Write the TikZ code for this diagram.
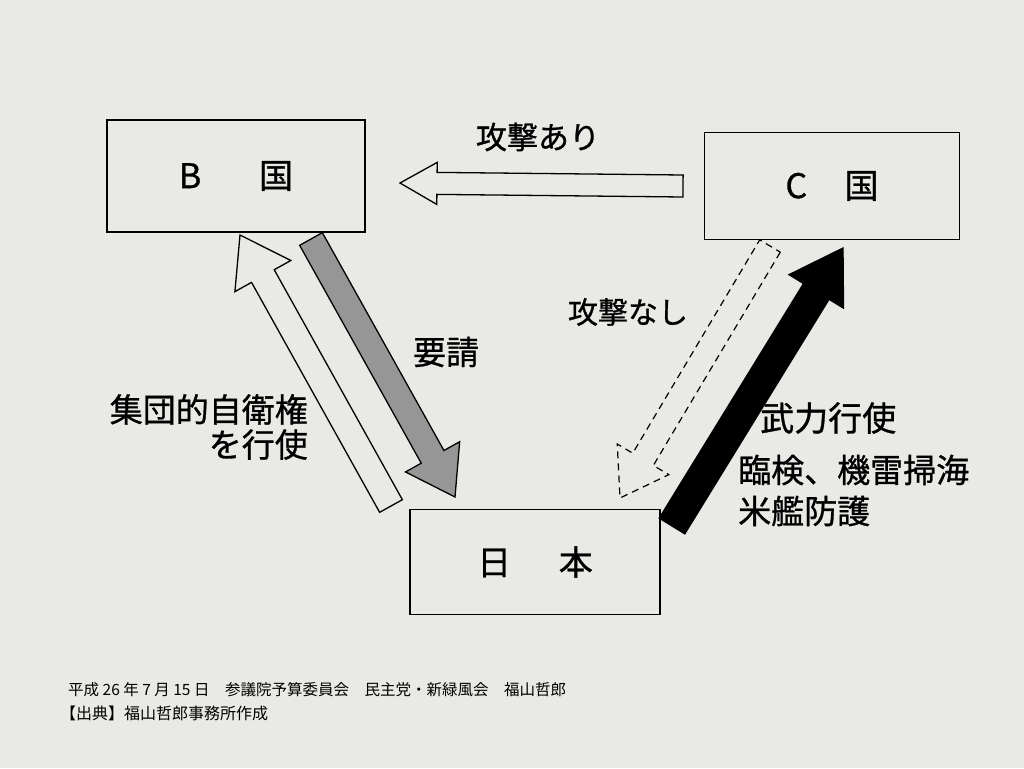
\documentclass[tikz,border=0pt]{standalone}
\usepackage{fontspec}
\newfontfamily\jp[FakeBold=0.9]{Noto Sans CJK JP}
\newfontfamily\jpf{Noto Sans CJK JP}
\usetikzlibrary{calc}
\definecolor{paper}{RGB}{233,233,230}
\definecolor{reqgray}{RGB}{150,150,150}
\newcommand\blockarrow[7]{% #1 style, #2 tail, #3 tip, #4 shaft half, #5 head half, #6 head length, #7 name
  \coordinate (#7h) at ($(#3)!#6!(#2)$);
  \draw[#1] ($(#2)!#4!90:(#3)$) -- ($(#7h)!#4!90:(#3)$) -- ($(#7h)!#5!90:(#3)$) -- (#3)
    -- ($(#7h)!#5!-90:(#3)$) -- ($(#7h)!#4!-90:(#3)$) -- ($(#2)!#4!-90:(#3)$) -- cycle;}
\tikzset{
  box/.style={draw, line width=1.4pt, inner sep=0pt, font=\jp\fontsize{34}{40}\selectfont},
  lbl/.style={inner sep=0pt, font=\jp\fontsize{33}{36}\selectfont},
  foot/.style={inner sep=0pt, anchor=west, font=\jpf\fontsize{15.5}{17}\selectfont},
  hollow/.style={draw, line width=1.3pt, fill=paper, line join=miter},
  dashedarrow/.style={draw, line width=1.2pt, dashed, dash pattern=on 7pt off 5pt, fill=paper},
  grayarrow/.style={draw, line width=1.3pt, fill=reqgray},
  blackarrow/.style={draw, line width=1.3pt, fill=black}
}
\begin{document}
\begin{tikzpicture}[x=1pt,y=1pt]
\useasboundingbox (0,0) rectangle (1024,-768);
\fill[paper] (0,0) rectangle (1024,-768);

% boxes
\node[box, minimum width=258pt, minimum height=112pt] (B) at (236,-176) {B\hspace{1.7em}国};
\node[box, minimum width=255pt, minimum height=107pt] (C) at (832,-186) {C\hspace{1.1em}国};
\node[box, minimum width=250pt, minimum height=105pt] (J) at (535,-562) {日\hspace{1.4em}本};

% arrow end points
\coordinate (aCt) at (683,-186);
\coordinate (aCp) at (400,-183);
\coordinate (aJt) at (391,-506);
\coordinate (aJp) at (240,-235);
\coordinate (aBt) at (311,-239);
\coordinate (aBp) at (455,-497);
\coordinate (dCt) at (770,-246);
\coordinate (dCp) at (620,-498);
\coordinate (kJt) at (672,-526);
\coordinate (kJp) at (843,-248);

% C -> B : attack
\blockarrow{hollow}{aCt}{aCp}{11pt}{21pt}{37pt}{ar1}
% Japan -> B : collective self-defence
\blockarrow{hollow}{aJt}{aJp}{13pt}{32pt}{47pt}{ar2}
% B -> Japan : request
\blockarrow{grayarrow}{aBt}{aBp}{13pt}{31pt}{46pt}{ar3}
% C -> Japan : no attack (dashed)
\blockarrow{dashedarrow}{dCt}{dCp}{12pt}{30pt}{45pt}{ar4}
% Japan -> C : use of force
\blockarrow{blackarrow}{kJt}{kJp}{15pt}{32pt}{51pt}{ar5}

% labels
\node[lbl, font=\jp\fontsize{31}{36}\selectfont] (t1) at (538,-137) {攻撃あり};
\node[lbl] (t2) at (446,-352) {要請};
\node[lbl, font=\jp\fontsize{30}{36}\selectfont] (t3) at (628,-312) {攻撃なし};
\node[lbl, align=right, anchor=east, font=\jp\fontsize{33}{35}\selectfont] (t4) at (308,-427) {集団的自衛権\\を行使};
\node[lbl, anchor=west, font=\jp\fontsize{34}{36}\selectfont] (t5) at (760,-418) {武力行使};
\node[lbl, anchor=west, font=\jp\fontsize{33}{40}\selectfont] (t6) at (738,-470) {臨検、機雷掃海};
\node[lbl, anchor=west, font=\jp\fontsize{33}{40}\selectfont] (t7) at (738,-511) {米艦防護};

% footer
\node[foot] (f1) at (68,-690) {平成 26 年 7 月 15 日　参議院予算委員会　民主党・新緑風会　福山哲郎};
\node[foot, font=\jpf\fontsize{16}{17}\selectfont] (f2) at (60,-713) {【出典】福山哲郎事務所作成};
\end{tikzpicture}
\end{document}
